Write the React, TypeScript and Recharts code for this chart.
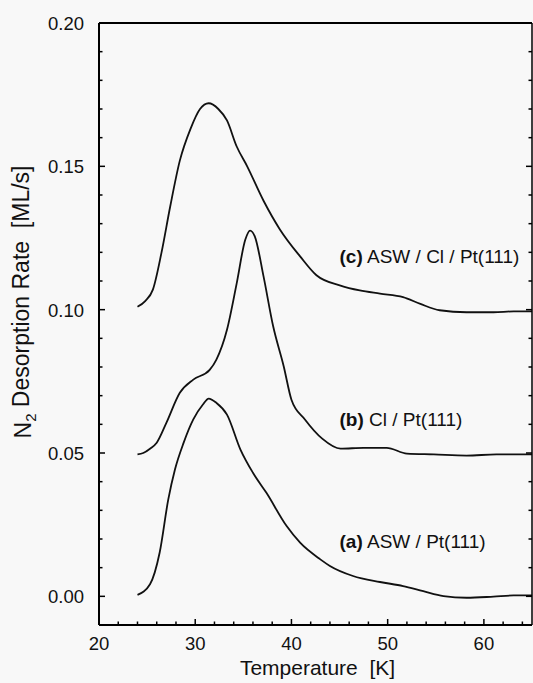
import React from 'react';
import { LineChart, Line, XAxis, YAxis, ReferenceDot } from 'recharts';

// ---- Data ----
const tempA = [24.0, 25.3, 26.3, 27.2, 27.9, 28.8, 29.8, 30.8, 31.4, 32.2, 33.3, 34.7, 36.0, 37.4, 39.5, 40.9, 43.0, 44.0, 46.4, 49.2, 51.6, 53.7, 55.8, 58.2, 61.0, 63.1, 65.0];
const rateA = [0.0005, 0.0042, 0.0152, 0.0338, 0.0443, 0.0536, 0.0617, 0.0669, 0.069, 0.0675, 0.0634, 0.0512, 0.0431, 0.0361, 0.0245, 0.0187, 0.0129, 0.0106, 0.0071, 0.005, 0.0036, 0.0018, 0.0001, -0.0005, -0.0001, 0.0003, 0.0003];

const tempB = [24.0, 24.6, 25.3, 26.0, 27.0, 28.4, 29.8, 31.5, 32.2, 33.3, 34.3, 35.2, 35.7, 36.2, 37.1, 38.1, 39.2, 40.0, 41.4, 43.2, 45.1, 47.5, 49.9, 52.0, 54.8, 58.2, 61.3, 65.0];
const rateB = [0.0495, 0.050, 0.0515, 0.0536, 0.0605, 0.071, 0.0756, 0.079, 0.0826, 0.093, 0.109, 0.1244, 0.1276, 0.1255, 0.1116, 0.0942, 0.0802, 0.0686, 0.0617, 0.055, 0.0515, 0.0518, 0.0518, 0.0498, 0.0495, 0.0491, 0.0495, 0.0495];

const tempC = [24.0, 24.8, 25.6, 26.5, 27.4, 28.4, 29.5, 30.5, 31.4, 32.4, 33.3, 34.3, 35.4, 37.1, 38.8, 40.9, 42.6, 45.1, 47.1, 49.2, 51.6, 53.4, 55.4, 58.2, 61.0, 63.1, 65.0];
const rateC = [0.101, 0.103, 0.107, 0.120, 0.136, 0.152, 0.163, 0.170, 0.172, 0.170, 0.166, 0.157, 0.150, 0.138, 0.128, 0.1186, 0.112, 0.1084, 0.1067, 0.1056, 0.1044, 0.102, 0.0998, 0.0991, 0.0991, 0.0994, 0.0994];

const xTicks = [20, 22, 24, 26, 28, 30, 32, 34, 36, 38, 40, 42, 44, 46, 48, 50, 52, 54, 56, 58, 60, 62, 64];
const yTicks = [0, 0.01, 0.02, 0.03, 0.04, 0.05, 0.06, 0.07, 0.08, 0.09, 0.1, 0.11, 0.12, 0.13, 0.14, 0.15, 0.16, 0.17, 0.18, 0.19, 0.2];

const labelTags = ['(c)', '(b)', '(a)'];
const labelTexts = [' ASW / Cl / Pt(111)', ' Cl / Pt(111)', ' ASW / Pt(111)'];
const labelT = [45, 45, 45];
const labelV = [0.1185, 0.0617, 0.0192];

// ---- Styling ----
const FONT = '"Liberation Sans", Arial, Helvetica, sans-serif';
const INK = '#111';
const MAJOR = 6;
const MINOR = 3.5;

const toPoints = (t: number[], v: number[]) => t.map((x, i) => ({ t: x, v: v[i] }));
const seriesA = toPoints(tempA, rateA);
const seriesB = toPoints(tempB, rateB);
const seriesC = toPoints(tempC, rateC);

const isMajorX = (v: number) => Math.round(v) % 10 === 0;
const isMajorY = (v: number) => Math.round(v * 100) % 5 === 0;

const BottomTick = (props: any) => {
  const x = Number(props.x);
  const y = Number(props.y);
  const major = isMajorX(props.payload.value);
  return (
    <g>
      <line x1={x} y1={y} x2={x} y2={y - (major ? MAJOR : MINOR)} stroke="#000" strokeWidth={1.5} />
      {major && (
        <text x={x} y={y + 25} textAnchor="middle" fontFamily={FONT} fontSize={18.5} fill={INK}>
          {props.payload.value}
        </text>
      )}
    </g>
  );
};

const TopTick = (props: any) => {
  const x = Number(props.x);
  const y = Number(props.y);
  const major = isMajorX(props.payload.value);
  return (
    <g>
      <line x1={x} y1={y} x2={x} y2={y + (major ? MAJOR : MINOR)} stroke="#000" strokeWidth={1.5} />
    </g>
  );
};

const LeftTick = (props: any) => {
  const x = Number(props.x);
  const y = Number(props.y);
  const major = isMajorY(props.payload.value);
  return (
    <g>
      <line x1={x} y1={y} x2={x + (major ? MAJOR : MINOR)} y2={y} stroke="#000" strokeWidth={1.5} />
      {major && (
        <text x={x - 15} y={y + 7} textAnchor="end" fontFamily={FONT} fontSize={18.5} fill={INK}>
          {Number(props.payload.value).toFixed(2)}
        </text>
      )}
    </g>
  );
};

const RightTick = (props: any) => {
  const x = Number(props.x);
  const y = Number(props.y);
  const major = isMajorY(props.payload.value);
  return (
    <g>
      <line x1={x} y1={y} x2={x - (major ? MAJOR : MINOR)} y2={y} stroke="#000" strokeWidth={1.5} />
    </g>
  );
};

const YTitle = (props: any) => {
  const vb = props.viewBox || { x: 0, y: 23, width: 99, height: 602 };
  const cx = vb.x + 31;
  const cy = vb.y + vb.height / 2 - 22;
  return (
    <text
      x={cx}
      y={cy}
      transform={`rotate(-90, ${cx}, ${cy})`}
      textAnchor="middle"
      fontFamily={FONT}
      fontSize={23}
      fill={INK}
      style={{ whiteSpace: 'pre' }}
    >
      <tspan>N</tspan>
      <tspan dy="0.3em" fontSize={15}>2</tspan>
      <tspan dy="-0.3em">{' Desorption Rate  [ML/s]'}</tspan>
    </text>
  );
};

const XTitle = (props: any) => {
  const vb = props.viewBox || { x: 99, y: 625, width: 433, height: 58 };
  return (
    <text
      x={vb.x + vb.width / 2 + 2}
      y={vb.y + 50}
      textAnchor="middle"
      fontFamily={FONT}
      fontSize={21}
      fill={INK}
      style={{ whiteSpace: 'pre' }}
    >
      {'Temperature  [K]'}
    </text>
  );
};

const makeAnnotation = (tag: string, text: string) => (props: any) => {
  const vb = props.viewBox || { x: 0, y: 0 };
  return (
    <text
      x={vb.x}
      y={vb.y}
      dy="0.36em"
      textAnchor="start"
      fontFamily={FONT}
      fontSize={19}
      fill={INK}
      style={{ whiteSpace: 'pre' }}
    >
      <tspan fontWeight="bold">{tag}</tspan>
      <tspan>{text}</tspan>
    </text>
  );
};

export default function App() {
  return (
    <div style={{ position: 'absolute', left: 0, top: 0, width: 533, height: 683, background: '#f8f8f8' }}>
      <LineChart width={533} height={683} margin={{ top: 22, right: 0, left: 0, bottom: 0 }}>
        <XAxis
          xAxisId="b"
          dataKey="t"
          type="number"
          domain={[20, 65]}
          ticks={xTicks}
          interval={0}
          allowDataOverflow
          orientation="bottom"
          height={58}
          tickSize={0}
          tickMargin={0}
          tickLine={false}
          axisLine={{ stroke: '#000', strokeWidth: 2 }}
          tick={<BottomTick />}
          label={{ content: <XTitle /> }}
        />
        <XAxis
          xAxisId="top"
          type="number"
          domain={[20, 65]}
          ticks={xTicks}
          interval={0}
          allowDataOverflow
          orientation="top"
          height={1}
          tickSize={0}
          tickMargin={0}
          tickLine={false}
          axisLine={{ stroke: '#000', strokeWidth: 2 }}
          tick={<TopTick />}
        />
        <YAxis
          yAxisId="l"
          type="number"
          domain={[-0.01, 0.2]}
          ticks={yTicks}
          interval={0}
          allowDataOverflow
          orientation="left"
          width={99}
          tickSize={0}
          tickMargin={0}
          tickLine={false}
          axisLine={{ stroke: '#000', strokeWidth: 2 }}
          tick={<LeftTick />}
          label={{ content: <YTitle /> }}
        />
        <YAxis
          yAxisId="r"
          type="number"
          domain={[-0.01, 0.2]}
          ticks={yTicks}
          interval={0}
          allowDataOverflow
          orientation="right"
          width={1}
          tickSize={0}
          tickMargin={0}
          tickLine={false}
          axisLine={{ stroke: '#000', strokeWidth: 1.5 }}
          tick={<RightTick />}
        />
        <Line xAxisId="b" yAxisId="l" data={seriesA} dataKey="v" type="monotone" stroke={INK} strokeWidth={1.8} dot={false} isAnimationActive={false} />
        <Line xAxisId="b" yAxisId="l" data={seriesB} dataKey="v" type="monotone" stroke={INK} strokeWidth={1.8} dot={false} isAnimationActive={false} />
        <Line xAxisId="b" yAxisId="l" data={seriesC} dataKey="v" type="monotone" stroke={INK} strokeWidth={1.8} dot={false} isAnimationActive={false} />
        {labelTags.map((tag, i) => (
          <ReferenceDot
            key={tag}
            xAxisId="b"
            yAxisId="l"
            x={labelT[i]}
            y={labelV[i]}
            r={0}
            fill="none"
            stroke="none"
            ifOverflow="visible"
            label={{ content: makeAnnotation(tag, labelTexts[i]) }}
          />
        ))}
      </LineChart>
    </div>
  );
}
